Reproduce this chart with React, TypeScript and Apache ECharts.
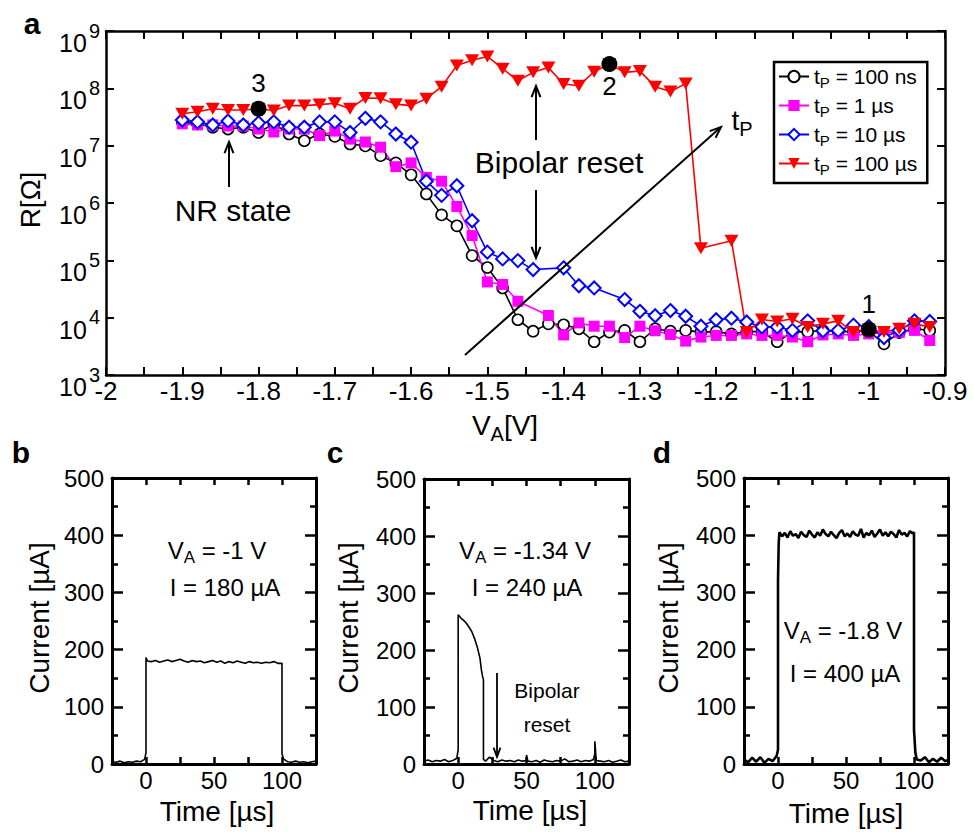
import React, { useEffect, useRef } from 'react';
import * as echarts from 'echarts';

const FONT = '"Liberation Sans", Arial, Helvetica, sans-serif';

// ---------- Panel a : R vs V_A ----------
const V_100ns = [-1.90,-1.88,-1.86,-1.84,-1.82,-1.80,-1.78,-1.76,-1.74,-1.72,-1.70,-1.68,-1.66,-1.64,-1.62,-1.60,-1.58,-1.56,-1.54,-1.52,-1.50,-1.48,-1.46,-1.44,-1.42,-1.40,-1.38,-1.36,-1.34,-1.32,-1.30,-1.28,-1.26,-1.24,-1.22,-1.20,-1.18,-1.16,-1.14,-1.12,-1.10,-1.08,-1.06,-1.04,-1.02,-1.00,-0.98,-0.96,-0.94,-0.92];
const R_100ns = [2.6e7,2.4e7,2.1e7,1.95e7,2.1e7,1.7e7,2.4e7,1.6e7,1.22e7,1.6e7,
  1.45e7,1.07e7,9.9e6,6.7e6,5.0e6,3.1e6,1.44e6,6.2e5,4.0e5,1.21e5,
  7.5e4,3.3e4,9.2e3,5.8e3,7.8e3,7.5e3,6.4e3,3.8e3,5.6e3,6.0e3,
  3.8e3,6.4e3,5.8e3,6.0e3,5.6e3,5.7e3,5.2e3,5.7e3,5.7e3,3.8e3,
  5.6e3,5.7e3,5.9e3,5.7e3,5.7e3,5.9e3,3.5e3,5.5e3,6.4e3,6.0e3];

const V_1us = [-1.90,-1.88,-1.86,-1.84,-1.82,-1.80,-1.78,-1.76,-1.74,-1.72,-1.70,-1.68,-1.66,-1.64,-1.62,-1.60,-1.58,-1.56,-1.54,-1.52,-1.50,-1.48,-1.46,-1.42,-1.40,-1.38,-1.36,-1.34,-1.32,-1.30,-1.28,-1.26,-1.24,-1.22,-1.20,-1.18,-1.16,-1.14,-1.12,-1.10,-1.08,-1.06,-1.04,-1.02,-1.00,-0.98,-0.96,-0.94,-0.92];
const R_1us = [2.4e7,2.3e7,2.3e7,2.2e7,2.2e7,1.95e7,1.73e7,1.95e7,1.95e7,1.5e7,
  1.8e7,1.3e7,1.16e7,9.4e6,4.3e6,5.0e6,2.8e6,2.4e6,8.7e5,2.7e5,
  4.2e4,3.8e4,1.93e4,
  1.09e4,5.0e3,8.1e3,7.1e3,7.1e3,4.5e3,
  7.1e3,5.9e3,5.1e3,3.9e3,4.6e3,4.9e3,4.9e3,5.2e3,4.9e3,4.9e3,
  4.6e3,3.8e3,5.0e3,5.2e3,4.9e3,5.2e3,5.6e3,5.5e3,6.0e3,4.0e3];

const V_10us = [-1.90,-1.88,-1.86,-1.84,-1.82,-1.80,-1.78,-1.76,-1.74,-1.72,-1.70,-1.68,-1.66,-1.64,-1.62,-1.60,-1.58,-1.56,-1.54,-1.52,-1.50,-1.48,-1.46,-1.44,-1.40,-1.38,-1.36,-1.32,-1.30,-1.28,-1.26,-1.24,-1.22,-1.20,-1.18,-1.16,-1.14,-1.12,-1.10,-1.08,-1.06,-1.04,-1.02,-1.00,-0.98,-0.96,-0.94,-0.92];
const R_10us = [2.8e7,2.6e7,2.3e7,2.7e7,2.3e7,2.5e7,2.6e7,2.1e7,2.1e7,2.6e7,
  2.6e7,1.7e7,3.0e7,2.6e7,1.6e7,1.15e7,2.4e6,1.36e6,2.0e6,4.9e5,
  1.39e5,1.06e5,9.9e4,6.9e4,
  7.4e4,3.6e4,3.3e4,
  2.07e4,1.29e4,1.08e4,1.33e4,1.06e4,7.1e3,9.2e3,9.8e3,8.4e3,6.9e3,6.9e3,
  6.0e3,8.8e3,5.9e3,6.0e3,7.4e3,7.0e3,4.5e3,6.0e3,8.8e3,8.6e3];

const V_100us = [-1.90,-1.88,-1.86,-1.84,-1.82,-1.80,-1.78,-1.76,-1.74,-1.72,-1.70,-1.68,-1.66,-1.64,-1.62,-1.60,-1.58,-1.56,-1.54,-1.52,-1.50,-1.48,-1.46,-1.44,-1.42,-1.40,-1.38,-1.36,-1.34,-1.32,-1.30,-1.28,-1.26,-1.24,-1.22,-1.18,-1.16,-1.14,-1.12,-1.10,-1.08,-1.06,-1.04,-1.02,-1.00,-0.98,-0.96,-0.94,-0.92];
const R_100us = [3.6e7,3.9e7,4.4e7,4.2e7,4.2e7,4.4e7,4.1e7,5.0e7,5.0e7,5.2e7,
  5.5e7,4.4e7,6.8e7,6.7e7,5.3e7,5.0e7,6.6e7,1.07e8,2.5e8,3.1e8,
  3.6e8,2.2e8,1.36e8,1.9e8,2.3e8,1.19e8,1.11e8,1.95e8,2.65e8,1.9e8,
  2.0e8,1.07e8,8.8e7,1.21e8,1.63e5,
  2.2e5,5.6e3,9.3e3,8.6e3,9.6e3,6.9e3,7.8e3,8.8e3,5.6e3,6.2e3,5.6e3,6.4e3,7.8e3,6.9e3];

const MARK_V = [-1.0, -1.34, -1.8];
const MARK_R = [6.2e3, 2.65e8, 4.4e7];
const MARK_TEXT = ['1', '2', '3'];
const MARK_POS = ['top', 'bottom', 'top'];

const X_TICKS_A = ['-2','-1.9','-1.8','-1.7','-1.6','-1.5','-1.4','-1.3','-1.2','-1.1','-1','-0.9'];

// ---------- Panels b, c, d : current traces ----------
const T_b = [-25,-22,-19,-16,-13,-10,-7,-4,-1,0,0,1,4,7,10,13,16,19,22,25,28,31,34,37,40,43,46,49,52,55,58,61,64,67,70,73,76,79,82,85,88,91,94,97,100,100,101,104,107,110,113,116,119,122,125];
const I_b = [4,3,5,2,4,3,5,4,8,20,186,
  180,179,181,178,180,182,179,181,183,180,178,181,179,180,177,179,181,178,180,176,179,177,180,178,176,179,177,178,176,178,177,179,176,
  176,18,9,4,3,5,3,4,2,4,5];

const T_c = [-25,-22,-19,-16,-13,-10,-7,-4,-1,0,0,2,4,6,8,10,12,14,16,17,18,18.5,18.5,20,23,26,29,32,35,38,41,44,47,50,50,51,54,57,60,63,66,69,72,75,78,81,84,87,90,93,96,99,100,100,101,104,107,110,113,116,119,122,125];
const I_c = [5,7,4,6,5,8,4,6,10,25,262,
  256,252,247,240,232,220,205,185,165,152,148,8,
  5,12,6,4,7,5,6,4,7,5,
  6,16,
  5,4,6,3,7,5,4,6,5,9,4,5,7,4,6,5,8,
  18,40,
  6,5,4,6,3,5,7,4,5];

const T_d = [-25,-22,-19,-16,-13,-10,-7,-4,-1,0,0,0.5,1,3,5,7,9,11,13,15,17,19,21,23,25,27,29,31,33,35,37,39,41,43,45,47,49,51,53,55,57,59,61,63,65,67,69,71,73,75,77,79,81,83,85,87,89,91,93,95,97,99,100,100,101,102,105,108,111,114,117,120,123,125];
const I_d = [8,3,11,4,12,2,9,5,14,25,320,385,405,
  398,404,396,407,399,402,395,406,400,397,
  408,401,396,405,399,410,402,398,406,400,
  395,404,409,398,403,397,407,401,399,411,
  396,404,400,408,397,403,410,399,405,398,
  406,402,396,409,401,404,398,407,403,
  405,60,20,8,6,12,3,9,4,11,5,7];

const zip = (a: number[], b: number[]) => a.map((v, i) => [v, b[i]]);

const BLACK = '#000';
const axisLine = (w: number) => ({ show: true, onZero: false, lineStyle: { color: BLACK, width: w } });

function subRich(fs: number, sfs: number, drop: number) {
  return {
    m: { fontSize: fs, lineHeight: fs, verticalAlign: 'top', fontFamily: FONT, fill: BLACK, color: BLACK },
    s: { fontSize: sfs, lineHeight: sfs, verticalAlign: 'top', padding: [drop, 0, 0, 0], fontFamily: FONT, fill: BLACK, color: BLACK },
  };
}

function txt(x: number, y: number, text: string, fontSize: number, extra: any = {}, rot = 0) {
  return {
    type: 'text', x, y, z: 100, rotation: rot,
    style: {
      text, fontSize, fontFamily: FONT, fill: BLACK,
      align: 'center', verticalAlign: 'middle', textAlign: 'center', textVerticalAlign: 'middle',
      ...extra,
    },
  };
}

function arrow(x1: number, y1: number, x2: number, y2: number, len = 12, ang = 0.38, w = 2) {
  const a = Math.atan2(y2 - y1, x2 - x1);
  const p1 = [x2 - len * Math.cos(a - ang), y2 - len * Math.sin(a - ang)];
  const p2 = [x2 - len * Math.cos(a + ang), y2 - len * Math.sin(a + ang)];
  return [
    { type: 'line', z: 100, shape: { x1, y1, x2, y2 }, style: { stroke: BLACK, lineWidth: w } },
    { type: 'polyline', z: 100, shape: { points: [p1, [x2, y2], p2] }, style: { stroke: BLACK, lineWidth: w, fill: null } },
  ];
}

function buildOption() {
  const grids = [
    { left: 106, top: 31, width: 839, height: 344 },
    { left: 112, top: 478, width: 204, height: 286 },
    { left: 424, top: 479, width: 205, height: 285 },
    { left: 744, top: 478, width: 204, height: 286 },
  ];

  const xAxis: any[] = [];
  const yAxis: any[] = [];

  const mainX = (pos: string, labels: boolean) => ({
    gridIndex: 0, type: 'value', min: -2, max: -0.9, interval: 0.1, position: pos,
    axisLine: axisLine(2.5),
    axisTick: { show: true, inside: true, length: 8, lineStyle: { color: BLACK, width: 2 } },
    minorTick: { show: true, splitNumber: 2, length: 8, lineStyle: { color: BLACK, width: 2 } },
    splitLine: { show: false },
    axisLabel: {
      show: labels, fontSize: 26, color: BLACK, fontFamily: FONT, margin: 3,
      formatter: (v: number) => {
        const idx = Math.round((v + 2) * 10);
        return X_TICKS_A[idx] ?? '';
      },
    },
  });
  xAxis.push(mainX('bottom', true), mainX('top', false));
  const mainY = (pos: string, labels: boolean) => ({
    gridIndex: 0, type: 'log', logBase: 10, min: 1e3, max: 1e9, position: pos,
    axisLine: axisLine(2.5),
    axisTick: { show: true, inside: true, length: 8, lineStyle: { color: BLACK, width: 2 } },
    splitLine: { show: false },
    axisLabel: {
      show: labels, color: BLACK, fontFamily: FONT, margin: 6,
      formatter: (v: number) => `{b|10}{s|${Math.round(Math.log10(v))}}`,
      rich: {
        b: { fontSize: 25, lineHeight: 25, verticalAlign: 'top', padding: [12, 0, 0, 0], fontFamily: FONT, color: BLACK },
        s: { fontSize: 20, lineHeight: 20, verticalAlign: 'top', padding: [2, 0, 0, 2], fontFamily: FONT, color: BLACK },
      },
    },
  });
  yAxis.push(mainY('left', true), mainY('right', false));

  for (let g = 1; g <= 3; g++) {
    const px = (pos: string, labels: boolean) => ({
      gridIndex: g, type: 'value', min: -25, max: 125, interval: 25, position: pos,
      axisLine: axisLine(3),
      axisTick: { show: true, inside: true, length: 7, lineStyle: { color: BLACK, width: 2.5 } },
      splitLine: { show: false },
      axisLabel: {
        show: labels, fontSize: 24, color: BLACK, fontFamily: FONT, margin: 4,
        formatter: (v: number) => (v === 0 || v === 50 || v === 100 ? String(v) : ''),
      },
    });
    const py = (pos: string, labels: boolean) => ({
      gridIndex: g, type: 'value', min: 0, max: 500, interval: 100, position: pos,
      axisLine: axisLine(3),
      axisTick: { show: true, inside: true, length: 11, lineStyle: { color: BLACK, width: 2.5 } },
      minorTick: { show: true, splitNumber: 2, length: 6, lineStyle: { color: BLACK, width: 2.5 } },
      splitLine: { show: false },
      axisLabel: { show: labels, fontSize: 24, color: BLACK, fontFamily: FONT, margin: 8 },
    });
    xAxis.push(px('bottom', true), px('top', false));
    yAxis.push(py('left', true), py('right', false));
  }

  const lineBase = { type: 'line', xAxisIndex: 0, yAxisIndex: 0, showAllSymbol: true, z: 3 };
  const series: any[] = [
    {
      ...lineBase, name: '100 ns', data: zip(V_100ns, R_100ns),
      symbol: 'circle', symbolSize: 11,
      lineStyle: { color: BLACK, width: 1.6 },
      itemStyle: { color: '#fff', borderColor: BLACK, borderWidth: 1.6 },
    },
    {
      ...lineBase, name: '1 µs', data: zip(V_1us, R_1us),
      symbol: 'rect', symbolSize: 11,
      lineStyle: { color: '#ff00ff', width: 1.6 },
      itemStyle: { color: '#ff00ff', borderColor: '#ff00ff', borderWidth: 0 },
    },
    {
      ...lineBase, name: '10 µs', data: zip(V_10us, R_10us),
      symbol: 'diamond', symbolSize: 13,
      lineStyle: { color: '#0000ff', width: 1.6 },
      itemStyle: { color: '#fff', borderColor: '#0000ff', borderWidth: 2 },
    },
    {
      ...lineBase, name: '100 µs', data: zip(V_100us, R_100us),
      symbol: 'triangle', symbolSize: [14, 12], symbolRotate: 180,
      lineStyle: { color: '#ff0000', width: 1.6 },
      itemStyle: { color: '#ff0000', borderColor: '#ff0000', borderWidth: 0 },
    },
    {
      type: 'scatter', xAxisIndex: 0, yAxisIndex: 0, z: 6,
      symbol: 'circle', symbolSize: 16,
      itemStyle: { color: BLACK, opacity: 1 },
      emphasis: { disabled: true },
      data: MARK_V.map((v, i) => ({
        value: [v, MARK_R[i]],
        label: { show: true, formatter: MARK_TEXT[i], position: MARK_POS[i], distance: MARK_POS[i] === 'top' ? 5 : 1,
          fontSize: 26, color: BLACK, fontFamily: FONT, opacity: 1 },
      })),
    },
    { type: 'line', xAxisIndex: 2, yAxisIndex: 2, data: zip(T_b, I_b), showSymbol: false, lineStyle: { color: BLACK, width: 1.6 } },
    { type: 'line', xAxisIndex: 4, yAxisIndex: 4, data: zip(T_c, I_c), showSymbol: false, lineStyle: { color: BLACK, width: 1.6 } },
    { type: 'line', xAxisIndex: 6, yAxisIndex: 6, data: zip(T_d, I_d), showSymbol: false, lineStyle: { color: BLACK, width: 2.6 } },
  ];

  const legendRich = subRich(21, 15, 9);

  const graphic: any[] = [
    txt(32, 23, 'a', 30, { fontWeight: 'bold' }),
    txt(30, 200, 'R[Ω]', 28, {}, Math.PI / 2),
    txt(505, 425, '{m|V}{s|A}{m|[V]}', 28, { rich: subRich(28, 20, 13) }),
    txt(233, 210, 'NR state', 30),
    txt(559, 162, 'Bipolar reset', 30),
    txt(742, 120, '{m|t}{s|P}', 28, { rich: subRich(28, 20, 13) }),
    ...arrow(229, 187, 229, 142),
    ...arrow(536, 140, 536, 86),
    ...arrow(536, 190, 536, 258),
    ...arrow(465, 355, 721, 127),

    txt(21, 452, 'b', 30, { fontWeight: 'bold' }),
    txt(335, 452, 'c', 30, { fontWeight: 'bold' }),
    txt(662, 452, 'd', 30, { fontWeight: 'bold' }),

    txt(39, 618, 'Current [µA]', 28, {}, Math.PI / 2),
    txt(348, 618, 'Current [µA]', 28, {}, Math.PI / 2),
    txt(668, 618, 'Current [µA]', 28, {}, Math.PI / 2),
    txt(217, 811, 'Time [µs]', 28),
    txt(530, 810, 'Time [µs]', 28),
    txt(846, 813, 'Time [µs]', 28),

    txt(217, 550, '{m|V}{s|A}{m| = -1 V}', 24, { rich: subRich(24, 17, 11) }),
    txt(225, 587, 'I = 180 µA', 24),
    txt(525, 550, '{m|V}{s|A}{m| = -1.34 V}', 24, { rich: subRich(24, 17, 11) }),
    txt(527, 587, 'I = 240 µA', 24),
    txt(547, 690, 'Bipolar', 21),
    txt(547, 724, 'reset', 21),
    ...arrow(497, 673, 497, 757, 10, 0.35, 1.8),
    txt(843, 630, '{m|V}{s|A}{m| = -1.8 V}', 24, { rich: subRich(24, 17, 11) }),
    txt(845, 673, 'I = 400 µA', 24),
  ];

  return {
    animation: false,
    backgroundColor: '#fff',
    textStyle: { fontFamily: FONT },
    grid: grids,
    xAxis,
    yAxis,
    legend: {
      data: ['100 ns', '1 µs', '10 µs', '100 µs'],
      orient: 'vertical', left: 774, top: 62,
      padding: [4, 10, 6, 4], itemGap: 5, itemWidth: 30, itemHeight: 14,
      borderColor: BLACK, borderWidth: 2.5, backgroundColor: '#fff',
      selectedMode: false,
      formatter: (name: string) => `{m|t}{s|P}{m| = ${name}}`,
      textStyle: { color: BLACK, fontFamily: FONT, fontSize: 21, rich: legendRich },
    },
    series,
    graphic: { elements: graphic },
  };
}

export default function App() {
  const ref = useRef<HTMLDivElement>(null);
  useEffect(() => {
    const chart = echarts.init(ref.current as HTMLDivElement, null, { renderer: 'svg' });
    chart.setOption(buildOption() as any);
    return () => chart.dispose();
  }, []);
  return (
    <div
      ref={ref}
      style={{ position: 'absolute', left: 0, top: 0, width: 974, height: 832, background: '#fff' }}
    />
  );
}
